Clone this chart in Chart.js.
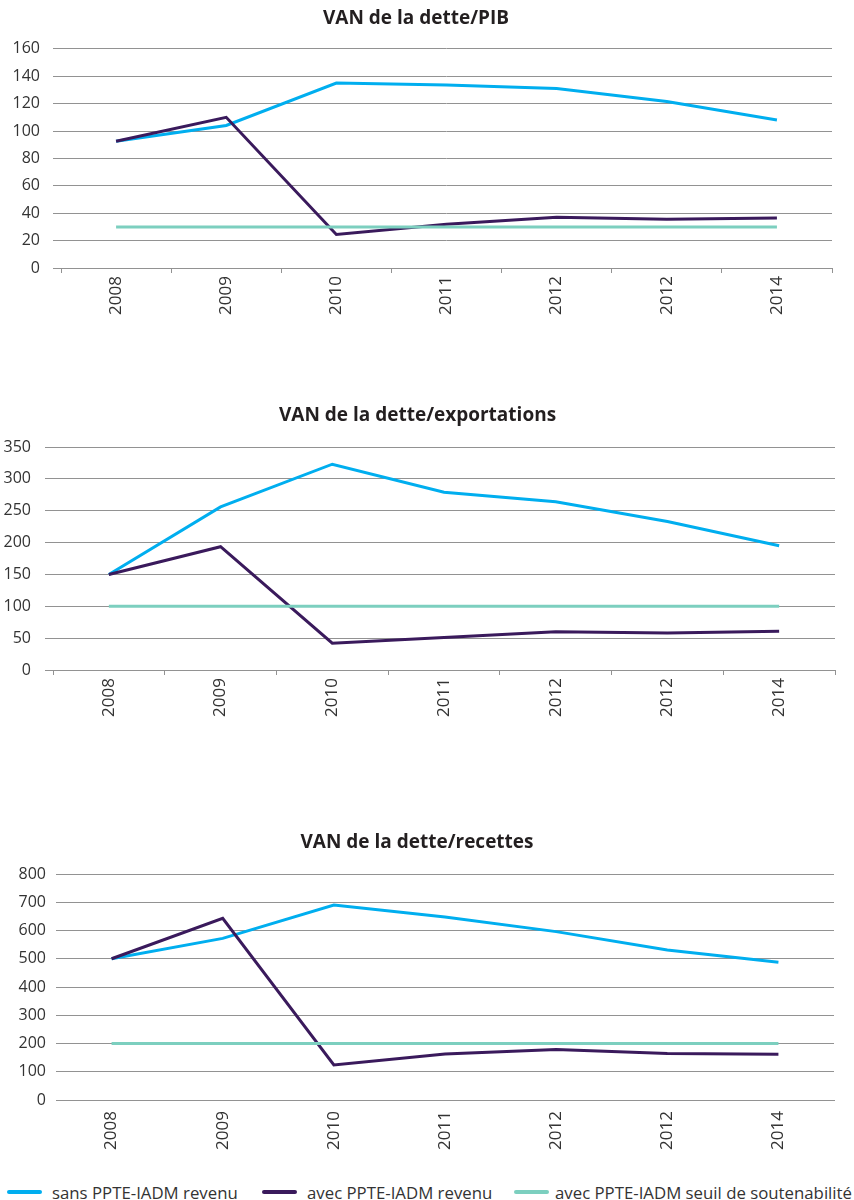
<!DOCTYPE html>
<html>
<head>
<meta charset="utf-8">
<script src="https://cdn.jsdelivr.net/npm/chart.js@4.4.1/dist/chart.umd.min.js"></script>
<style>
  html, body { margin: 0; padding: 0; background: #fff; }
  #page { position: relative; width: 854px; height: 1200px; overflow: hidden; font-family: "Open Sans", sans-serif; }
  .box { position: absolute; left: 0; width: 854px; }
  .legend-item { position: absolute; top: 1180px; height: 24px; display: flex; align-items: center; font-size: 16.8px; color: #333; white-space: nowrap; }
  .swatch { display: inline-block; width: 35px; height: 4px; border-radius: 2px; margin-right: 10px; }
</style>
</head>
<body>
<div id="page">
  <div class="box" style="top:0;height:320px"><canvas id="c1"></canvas></div>
  <div class="box" style="top:390px;height:332px"><canvas id="c2"></canvas></div>
  <div class="box" style="top:815px;height:337px"><canvas id="c3"></canvas></div>
  <div id="legend"></div>
</div>
<script>
/* Three VAN debt ratio panels, shared legend underneath. */

const years = ["2008", "2009", "2010", "2011", "2012", "2012", "2014"];
const seriesNames = ["sans PPTE-IADM revenu", "avec PPTE-IADM revenu", "avec PPTE-IADM seuil de soutenabilité"];
const seriesColors = ["#00aeef", "#3a1a5c", "#7ccfbf"];

// VAN de la dette/PIB
const pibSans  = [92.5, 104, 135, 133.5, 131, 121.5, 108];
const pibAvec  = [92.5, 110, 24.5, 32, 37, 35.5, 36.5];
const pibSeuil = [30, 30, 30, 30, 30, 30, 30];

// VAN de la dette/exportations
const expSans  = [150, 256, 323, 279, 264, 233, 195];
const expAvec  = [150, 193.5, 42, 51, 60, 58, 61];
const expSeuil = [100, 100, 100, 100, 100, 100, 100];

// VAN de la dette/recettes
const recSans  = [500, 572, 690, 648, 596, 531, 488];
const recAvec  = [500, 643, 124, 163, 179, 165, 162];
const recSeuil = [200, 200, 200, 200, 200, 200, 200];

const GRID = "#929292";
const TEXT = "#333333";

function panel(id, title, values, yMax, yStep, geo) {
  const datasets = values.map((v, i) => ({
    label: seriesNames[i],
    data: v,
    borderColor: seriesColors[i],
    backgroundColor: seriesColors[i],
    borderWidth: 3,
    pointRadius: 0,
    tension: 0,
    order: 2 - i,
  }));
  return new Chart(document.getElementById(id), {
    type: "line",
    data: { labels: years, datasets },
    options: {
      responsive: true,
      maintainAspectRatio: false,
      animation: false,
      layout: { padding: { left: 0, right: geo.right, top: 0, bottom: geo.bottom } },
      plugins: {
        legend: { display: false },
        tooltip: { enabled: false },
        title: {
          display: true, text: title, color: "#231f20",
          font: { family: "Open Sans", size: 19, weight: "bold" },
          padding: { top: geo.titleTop, bottom: geo.titleBottom },
        },
      },
      scales: {
        x: {
          offset: true,
          grid: { offset: true, drawOnChartArea: false, drawTicks: geo.xTicks, tickLength: 5, color: GRID },
          border: { display: true, color: GRID, width: 1 },
          ticks: {
            color: TEXT, font: { family: "Open Sans", size: 17 },
            maxRotation: 90, minRotation: 90, autoSkip: false,
            padding: geo.xPad,
          },
          afterFit: (s) => { s.height = 50; },
        },
        y: {
          min: 0, max: yMax,
          grid: { color: GRID, lineWidth: 1, drawTicks: geo.yTicks, tickLength: 8 },
          border: { display: false },
          ticks: { stepSize: yStep, color: TEXT, font: { family: "Open Sans", size: 16 }, padding: geo.yPad },
          afterFit: (s) => { s.width = geo.left; },
        },
      },
    },
  });
}

panel("c1", "VAN de la dette/PIB", [pibSans, pibAvec, pibSeuil], 160, 20,
  { left: 61, right: 22, bottom: 2, titleTop: 7, titleBottom: 19, xTicks: true, xPad: 3, yTicks: true, yPad: 13 });
panel("c2", "VAN de la dette/exportations", [expSans, expAvec, expSeuil], 350, 50,
  { left: 53, right: 19, bottom: 2, titleTop: 14.6, titleBottom: 19.6, xTicks: true, xPad: 3, yTicks: true, yPad: 14 });
panel("c3", "VAN de la dette/recettes", [recSans, recAvec, recSeuil], 800, 100,
  { left: 56, right: 20, bottom: 2, titleTop: 16.6, titleBottom: 19.6, xTicks: false, xPad: 11, yTicks: false, yPad: 10 });

// ----- shared legend -----
const legendLeft = [7, 262, 514];
const legendEl = document.getElementById("legend");
seriesNames.forEach((name, i) => {
  const item = document.createElement("div");
  item.className = "legend-item";
  item.style.left = legendLeft[i] + "px";
  const sw = document.createElement("span");
  sw.className = "swatch";
  sw.style.background = seriesColors[i];
  if (i === 2) sw.style.marginRight = "6px";
  const tx = document.createElement("span");
  tx.textContent = name;
  item.appendChild(sw);
  item.appendChild(tx);
  legendEl.appendChild(item);
});
</script>
</body>
</html>
